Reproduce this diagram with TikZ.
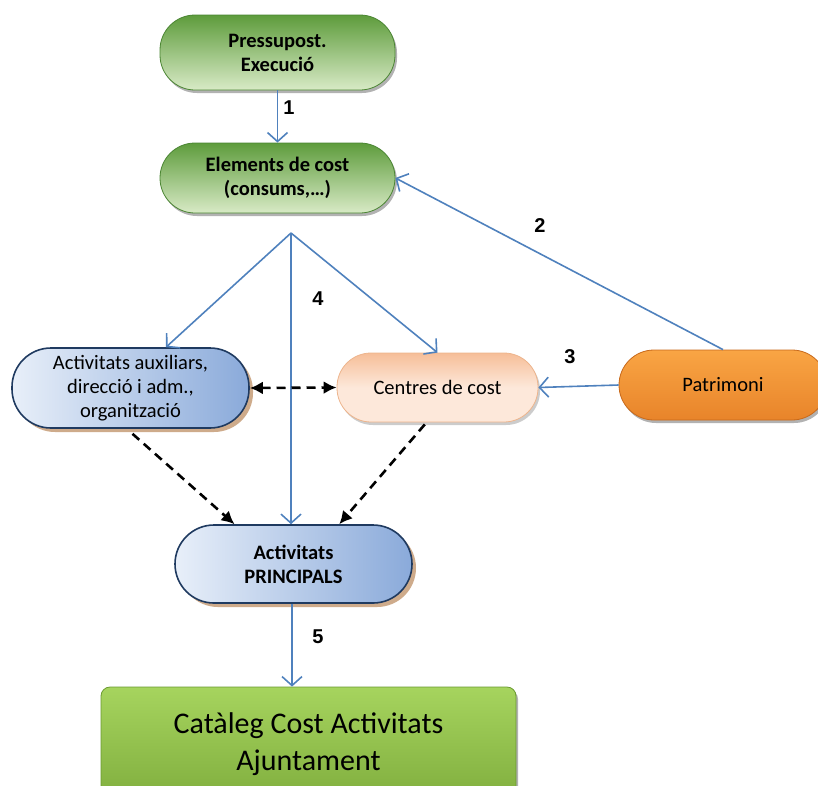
\documentclass[tikz,border=0pt]{standalone}
\usepackage{fontspec}
\setmainfont{Carlito}
\newfontfamily\numfont{Liberation Sans}
\usetikzlibrary{arrows.meta,shadows,calc}
\definecolor{gtop}{HTML}{5E9C3C}
\definecolor{gbot}{HTML}{D8EAC6}
\definecolor{gedge}{HTML}{4A8532}
\definecolor{bleft}{HTML}{E8EFF9}
\definecolor{bright}{HTML}{8AAADA}
\definecolor{bedge}{HTML}{1F3A60}
\definecolor{ptop}{HTML}{F6BE98}
\definecolor{pbot}{HTML}{FDE8DA}
\definecolor{pedge}{HTML}{EDB48C}
\definecolor{otop}{HTML}{F9A544}
\definecolor{obot}{HTML}{E8842A}
\definecolor{oedge}{HTML}{C8691A}
\definecolor{ctop}{HTML}{A6D45E}
\definecolor{cbot}{HTML}{80AE3E}
\definecolor{cedge}{HTML}{6A9A30}
\definecolor{arrblue}{HTML}{4F81BD}
\definecolor{tan}{HTML}{C9A27E}
\tikzset{
  pill/.style={rectangle, align=center, inner sep=0pt},
  greenpill/.style={pill, top color=gtop, bottom color=gbot, draw=gedge, line width=0.8pt,
     rounded corners=35pt, font=\fontsize{20.5}{24}\selectfont\bfseries,
     drop shadow={shadow xshift=2pt, shadow yshift=-3pt, fill=black, opacity=0.3}},
  bluepill/.style={pill, left color=bleft, right color=bright, draw=bedge, line width=1.6pt,
     rounded corners=39pt,
     drop shadow={shadow xshift=4pt, shadow yshift=-4pt, fill=tan, opacity=0.9}},
  peachpill/.style={pill, top color=ptop, bottom color=pbot, middle color=pbot, draw=pedge, line width=0.8pt,
     rounded corners=34pt, font=\fontsize{20.5}{24}\selectfont,
     drop shadow={shadow xshift=2pt, shadow yshift=-3pt, fill=black, opacity=0.2}},
  orangepill/.style={pill, top color=otop, bottom color=obot, draw=oedge, line width=0.8pt,
     rounded corners=35pt, font=\fontsize{20.5}{24}\selectfont,
     drop shadow={shadow xshift=2pt, shadow yshift=-3pt, fill=black, opacity=0.3}},
  catbox/.style={pill, top color=ctop, bottom color=cbot, draw=cedge, line width=0.8pt,
     rounded corners=9pt, font=\fontsize{30}{37}\selectfont,
     drop shadow={shadow xshift=2pt, shadow yshift=-3pt, fill=black, opacity=0.3}},
  flow/.style={draw=arrblue, line width=1.6pt, -{Straight Barb[length=9pt,width=20pt,line width=1.6pt]}},
  dflow/.style={draw=black, line width=2.6pt, dash pattern=on 9pt off 6pt,
     -{Latex[length=13pt,width=13pt]}},
  num/.style={font=\numfont\fontsize{20}{24}\selectfont\bfseries, inner sep=0pt}
}
\begin{document}
\begin{tikzpicture}[x=1pt,y=-1pt]
\useasboundingbox (0,0) rectangle (818,785);
\node[greenpill, minimum width=235pt, minimum height=75pt] (pres) at (277.5,52.5) {Pressupost.\\Execució};
\node[greenpill, minimum width=235pt, minimum height=70pt] (elem) at (277.5,178) {Elements de cost\\(consums,…)};
\node[bluepill, minimum width=237pt, minimum height=80pt, font=\fontsize{20.5}{24}\selectfont] (aux) at (130.5,388) {Activitats auxiliars,\\direcció i adm.,\\organització};
\node[peachpill, minimum width=201pt, minimum height=69pt] (cent) at (437.5,387.5) {Centres de cost};
\node[orangepill, minimum width=208pt, minimum height=70pt] (patr) at (723,385) {Patrimoni};
\node[bluepill, minimum width=237pt, minimum height=78pt, font=\fontsize{20.5}{24}\selectfont\bfseries] (princ) at (293.5,564) {Activitats\\PRINCIPALS};
\node[catbox, minimum width=415pt, minimum height=114pt] (cat) at (308.5,744) {Catàleg Cost Activitats\\Ajuntament};
\coordinate (fan) at (291,233);

\draw[flow] (pres.south) -- (elem.north);
\draw[flow] (patr.north) -- (elem.east);
\draw[flow] (fan) -- (aux.49);
\draw[flow] (fan) -- (cent.north);
\draw[flow] (fan) -- (fan |- princ.north);
\draw[flow] (patr.west) -- (cent.east);
\draw[flow] ($(princ.south)+(-1.5,0)$) -- ($(princ.south |- cat.north)+(-1.5,0)$);

\draw[dflow, {Latex[length=13pt,width=13pt]}-{Latex[length=13pt,width=13pt]}] (aux.east) -- (cent.west);
\draw[dflow] ($(aux.south)+(2,5)$) -- (princ.146);
\draw[dflow] ($(cent.250)+(0,2)$) -- (princ.41);

\node[num] (n1) at (289,108) {1};
\node[num] (n2) at (540,226) {2};
\node[num] (n3) at (570,357) {3};
\node[num] (n4) at (318,299) {4};
\node[num] (n5) at (318,637) {5};
\end{tikzpicture}
\end{document}
